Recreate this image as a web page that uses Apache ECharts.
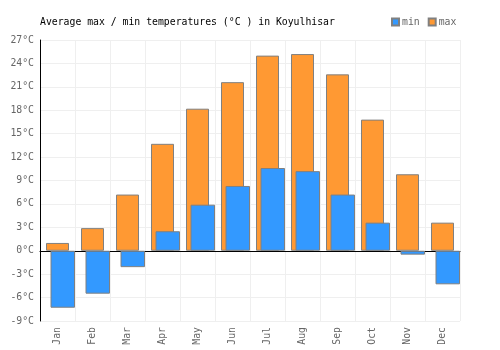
<!DOCTYPE html>
<html><head><meta charset="utf-8">
<script src="https://cdn.jsdelivr.net/npm/echarts@6/dist/echarts.min.js"></script>
<style>html,body{margin:0;padding:0;background:#fff}#c{width:500px;height:350px}</style>
</head><body><div id="c"></div>
<script>
const months = ['Jan','Feb','Mar','Apr','May','Jun','Jul','Aug','Sep','Oct','Nov','Dec'];
const maxTemps = [1.0, 2.9, 7.2, 13.7, 18.2, 21.6, 25.0, 25.2, 22.6, 16.8, 9.8, 3.6];
const minTemps = [-7.3, -5.5, -2.1, 2.5, 5.9, 8.3, 10.6, 10.2, 7.2, 3.6, -0.5, -4.3];
const yMin = -9, yMax = 27, yStep = 3;
const spacer = months.map(() => null);

const FONT = 'DejaVu Sans Mono';
const chart = echarts.init(document.getElementById('c'), null, {renderer: 'canvas'});
chart.setOption({
  animation: false,
  backgroundColor: '#fff',
  title: {
    text: 'Average max / min temperatures (°C ) in Koyulhisar',
    left: 35, top: 12,
    textStyle: {fontFamily: FONT, fontSize: 9.8, fontWeight: 'normal', color: '#000'}
  },
  legend: {
    data: ['min', 'max'],
    left: 386, top: 12,
    itemWidth: 7, itemHeight: 7, itemGap: 8,
    icon: 'rect',
    textStyle: {fontFamily: FONT, fontSize: 9.8, color: '#666', padding: [0, 0, 0, -2]}
  },
  grid: {left: 40, right: 40, top: 40, bottom: 29},
  xAxis: [{
    type: 'category', data: months, position: 'bottom',
    axisLine: {show: false, onZero: false},
    axisTick: {show: false},
    axisLabel: {rotate: 90, margin: 6, fontFamily: FONT, fontSize: 9.8, color: '#666', interval: 0},
    splitLine: {show: true, interval: 0, lineStyle: {color: '#efefef', width: 1}}
  }, {
    type: 'category', data: months,
    axisLine: {show: true, onZero: true, lineStyle: {color: '#000', width: 1}},
    axisTick: {show: false},
    axisLabel: {show: false},
    splitLine: {show: false}
  }],
  yAxis: {
    type: 'value', min: yMin, max: yMax, interval: yStep,
    axisLine: {show: true, lineStyle: {color: '#000', width: 1}},
    axisTick: {show: false},
    axisLabel: {formatter: '{value}°C', margin: 6, fontFamily: FONT, fontSize: 9.8, color: '#666'},
    splitLine: {show: true, lineStyle: {color: '#efefef', width: 1}}
  },
  series: [{
    name: 'max', type: 'bar', xAxisIndex: 0, data: maxTemps, barWidth: 23,
    itemStyle: {color: '#ff9933', borderColor: '#808080', borderWidth: 1, borderRadius: 0}
  }, {
    name: 'spacer', type: 'bar', xAxisIndex: 1, data: spacer, barWidth: 10.5, barGap: 0,
    itemStyle: {color: 'transparent', borderRadius: 0}
  }, {
    name: 'min', type: 'bar', xAxisIndex: 1, data: minTemps, barWidth: 24.5, barGap: 0,
    itemStyle: {color: '#3399ff', borderColor: '#808080', borderWidth: 1, borderRadius: 0}
  }]
});
</script></body></html>
